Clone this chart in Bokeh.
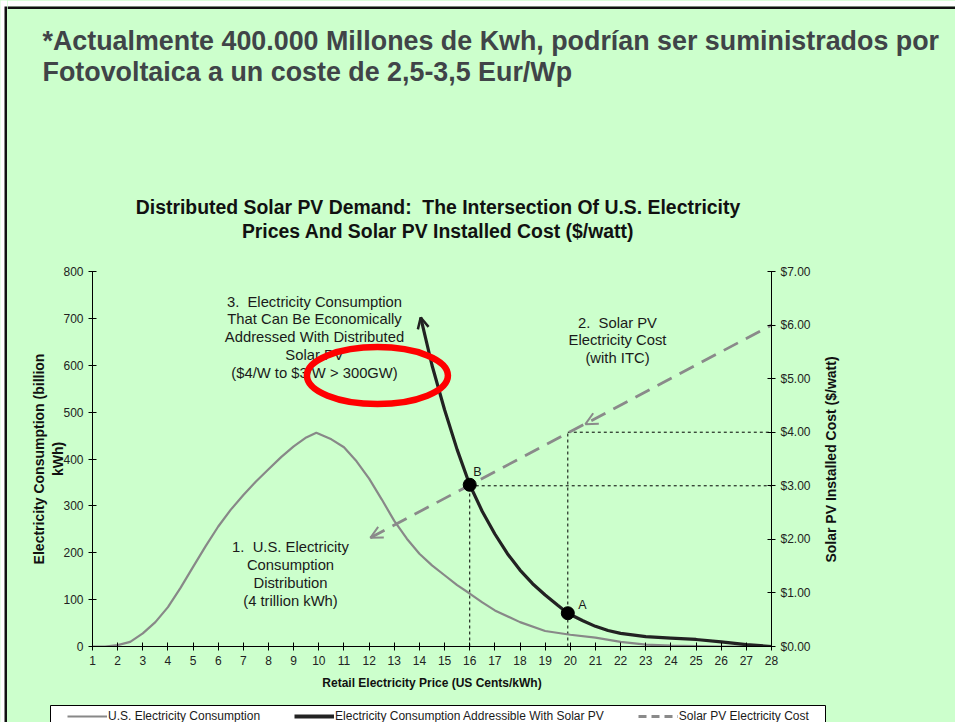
import math
from bokeh.plotting import figure
from bokeh.layouts import row, column
from bokeh.models import (Range1d, LinearAxis, FixedTicker, NumeralTickFormatter, Label,
                          Legend, LegendItem, Arrow, OpenHead)
from bokeh.embed import file_html
from bokeh.resources import INLINE

# ---------------- data ----------------
price_ticks = list(range(1, 29))
left_ticks = [0, 100, 200, 300, 400, 500, 600, 700, 800]
right_ticks = [0, 1, 2, 3, 4, 5, 6, 7]

consumption_x = [1, 1.5, 2, 2.5, 3, 3.5, 4, 4.5, 5, 5.5, 6, 6.5, 7, 7.5, 8, 8.5, 9, 9.5, 9.9,
                 10.5, 11, 11.5, 12, 12.5, 13, 13.5, 14, 14.5, 15, 15.5, 16, 16.5, 17, 18, 19,
                 20, 21, 22, 23, 24, 25, 26, 27, 28]
consumption_y = [0, 0, 3, 10, 28, 52, 84, 125, 170, 214, 256, 292, 323, 352, 378, 404, 427, 446, 456,
                 442, 425, 395, 358, 314, 268, 230, 198, 173, 152, 131, 113, 94, 77, 52, 33,
                 25, 19, 10, 4, 2, 1, 0, 0, 0]

addressable_x = [14.05, 14.5, 15.0, 15.5, 16.0, 16.5, 17.0, 17.5, 18.0, 18.5, 19.0, 19.5,
                 19.9, 20.5, 21, 21.5, 22, 23, 24, 25, 26, 27, 28]
addressable_y = [702, 600, 505, 420, 345, 288, 240, 198, 163, 134, 110, 88,
                 71, 55, 43, 34, 28, 21, 18, 15, 10, 4, 0]

pv_cost_x = [12.05, 28]
pv_cost_y = [2.03, 6.0]

point_names = ["B", "A"]
point_x = [16, 19.9]
point_y = [345, 71]
point_cost = [3.0, 4.0]

callout_x = [20.6]
callout_cost = [4.15]

highlight_x = [12.33]
highlight_y = [578]

legend_labels = ["U.S. Electricity Consumption",
                 "Electricity Consumption Addressible With Solar PV",
                 "Solar PV Electricity Cost"]

NB = "\u00a0"
FONT = "Liberation Sans"
BG = "#CCFFCC"
TXT = "#1a1a1a"
GRAY = "#888888"
DGRAY = "#8a8a8a"
DARK = "#222222"


def no_align(fig):
    try:
        fig.frame_align = False
    except Exception:
        pass


def bare(width, height, xr, yr, bg=BG):
    f = figure(width=width, height=height, x_range=Range1d(*xr), y_range=Range1d(*yr),
               min_border=0, x_axis_type=None, y_axis_type=None, title=None,
               toolbar_location=None, output_backend="svg",
               background_fill_color=bg, border_fill_color=bg)
    f.outline_line_color = None
    f.grid.visible = False
    no_align(f)
    return f


def hlab(fig, text, x, y, size, bold=False, align="center", baseline="alphabetic", color=TXT,
         angle=0.0):
    fig.add_layout(Label(x=x, y=y, text=text, text_font=FONT, text_font_size=f"{size}px",
                         text_font_style="bold" if bold else "normal",
                         text_align=align, text_baseline=baseline, text_color=color,
                         angle=angle))


# ---------------- left border strip ----------------
strip = bare(7, 722, (0, 7), (722, 0), bg="white")
strip.quad(left=[4], right=[7], top=[6], bottom=[722], fill_color="#111111", line_color=None)

# ---------------- header ----------------
header = bare(948, 250, (7, 955), (250, 0))
header.quad(left=[7], right=[955], top=[0], bottom=[6], fill_color="white", line_color=None)
header.quad(left=[7], right=[955], top=[6], bottom=[8.5], fill_color="#111111", line_color=None)

hlab(header, "*Actualmente 400.000 Millones de Kwh, podrían ser suministrados por", 42, 40, 26.85,
     bold=True, align="left", color="#404448")
hlab(header, "Fotovoltaica a un coste de 2,5-3,5 Eur/Wp", 42, 71, 26.85,
     bold=True, align="left", color="#404448")
hlab(header, f"Distributed Solar PV Demand:{NB} The Intersection Of U.S. Electricity", 437.5, 206,
     19.4, bold=True, color="#111111")
hlab(header, "Prices And Solar PV Installed Cost ($/watt)", 437.5, 230, 19.4,
     bold=True, color="#111111")

# ---------------- main chart ----------------
p = figure(frame_width=679, frame_height=375,
           min_border_left=85, min_border_right=46, min_border_top=21, min_border_bottom=54,
           x_range=Range1d(1, 28), y_range=Range1d(0, 800), title=None,
           output_backend="svg", toolbar_location=None,
           background_fill_color=BG, border_fill_color=BG)
p.extra_y_ranges = {"cost": Range1d(0, 7)}
p.outline_line_color = None
p.grid.visible = False
no_align(p)

ax_b = p.xaxis[0]
ax_l = p.yaxis[0]
ax_b.ticker = FixedTicker(ticks=price_ticks)
ax_l.ticker = FixedTicker(ticks=left_ticks)
ax_r = LinearAxis(y_range_name="cost", ticker=FixedTicker(ticks=right_ticks),
                  formatter=NumeralTickFormatter(format="$0.00"))
p.add_layout(ax_r, "right")
for ax in [ax_b, ax_l, ax_r]:
    ax.axis_line_color = "black"
    ax.major_tick_line_color = "black"
    ax.major_tick_in = 4
    ax.major_tick_out = 4
    ax.minor_tick_line_color = None
    ax.major_label_text_font = FONT
    ax.major_label_text_font_size = "12px"
    ax.major_label_text_color = "#222222"
    ax.major_label_standoff = 5
    ax.axis_label_text_font = FONT
    ax.axis_label_text_font_style = "bold"
    ax.axis_label_text_color = "#111111"

ax_b.axis_label = "Retail Electricity Price (US Cents/kWh)"
ax_b.axis_label_text_font_size = "12px"
ax_b.axis_label_standoff = 8

ax_l.axis_label = "Electricity Consumption (billion\nkWh)"
ax_l.axis_label_text_font_size = "14px"
ax_l.axis_label_standoff = -6

# reference dotted lines
p.line([point_x[0], point_x[0]], [0, point_y[0]], line_color="black", line_width=1, line_dash="3 3")
p.line([point_x[0], 28], [point_cost[0], point_cost[0]], y_range_name="cost",
       line_color="black", line_width=1, line_dash="3 3")
p.line([point_x[1], point_x[1]], [0, point_cost[1]], y_range_name="cost",
       line_color="black", line_width=1, line_dash="3 3")
p.line([point_x[1], 28], [point_cost[1], point_cost[1]], y_range_name="cost",
       line_color="black", line_width=1, line_dash="3 3")

# series
r1 = p.line(consumption_x, consumption_y, line_color=GRAY, line_width=2.2)
r3 = p.line(pv_cost_x, pv_cost_y, y_range_name="cost", line_color=DGRAY,
            line_width=2.8, line_dash="16 9")
r2 = p.line(addressable_x, addressable_y, line_color=DARK, line_width=3.2)
p.scatter(point_x, point_y, size=13, color="black")

# arrows
p.add_layout(Arrow(end=OpenHead(size=11, line_color=DARK, line_width=2.5),
                   x_start=addressable_x[1], y_start=addressable_y[1],
                   x_end=addressable_x[0], y_end=addressable_y[0], line_alpha=0))
slope = (pv_cost_y[1] - pv_cost_y[0]) / (pv_cost_x[1] - pv_cost_x[0])
p.add_layout(Arrow(end=OpenHead(size=12, line_color=DGRAY, line_width=2),
                   x_start=pv_cost_x[0] + 0.5, y_start=pv_cost_y[0] + 0.5 * slope,
                   x_end=pv_cost_x[0], y_end=pv_cost_y[0], y_range_name="cost", line_alpha=0))
p.add_layout(Arrow(end=OpenHead(size=12, line_color=DGRAY, line_width=2),
                   x_start=callout_x[0] + 0.5, y_start=callout_cost[0] + 0.5 * slope,
                   x_end=callout_x[0], y_end=callout_cost[0], y_range_name="cost", line_alpha=0))

# annotations (page px -> screen units relative to frame bottom-left at (92, 646))
FX0, FY0 = 92, 646


def lab(text, px, py, size):
    p.add_layout(Label(x=px - FX0, y=FY0 - py, x_units="screen", y_units="screen", text=text,
                       text_font=FONT, text_font_size=f"{size}px", text_align="center",
                       text_baseline="middle", text_color=TXT))


for i, t in enumerate([f"3.{NB} Electricity Consumption", "That Can Be Economically",
                       "Addressed With Distributed", "Solar PV", "($4/W to $3/W > 300GW)"]):
    lab(t, 314, 301 + i * 17.8, 14.8)
for i, t in enumerate([f"2.{NB} Solar PV", "Electricity Cost", "(with ITC)"]):
    lab(t, 617, 322 + i * 17.5, 14.8)
for i, t in enumerate([f"1.{NB} U.S. Electricity", "Consumption", "Distribution", "(4 trillion kWh)"]):
    lab(t, 290, 546 + i * 18, 14.8)
lab(point_names[0], 477, 471, 12.5)
lab(point_names[1], 582, 604, 12.5)

# red highlight ellipse (on top)
p.ellipse(highlight_x, highlight_y, width=141, height=57, width_units="screen",
          height_units="screen", fill_color=None, line_color="#FF0000", line_width=6.5,
          level="overlay")

# ---------------- right side: right-axis title ----------------
side = bare(138, 450, (817, 955), (700, 250))
hlab(side, "Solar PV Installed Cost ($/watt)", 830, 459, 14, bold=True, baseline="middle",
     color="#111111", angle=math.pi / 2)

# ---------------- footer with legend ----------------
footer = bare(948, 22, (7, 955), (722, 700))
footer.quad(left=[50], right=[825], top=[705], bottom=[740], fill_color="white",
            line_color="black", line_width=1)
l1 = footer.line(x=[0, 1], y=[800, 800], line_color=GRAY, line_width=2.2)
l2 = footer.line(x=[0, 1], y=[800, 800], line_color=DARK, line_width=4)
l3 = footer.line(x=[0, 1], y=[800, 800], line_color=DGRAY, line_width=2.8, line_dash="8 5")
legend = Legend(items=[LegendItem(label=legend_labels[0], renderers=[l1]),
                       LegendItem(label=legend_labels[1], renderers=[l2]),
                       LegendItem(label=legend_labels[2], renderers=[l3])],
                orientation="horizontal", location=(60, -1),
                glyph_width=40, glyph_height=14, label_height=14, label_standoff=1,
                spacing=34, padding=5, margin=0, background_fill_alpha=0,
                border_line_color=None, label_text_font=FONT, label_text_font_size="12px",
                label_text_color=TXT)
footer.add_layout(legend)

layout = row(strip,
             column(header, row(p, side, styles={"background-color": BG}), footer,
                    styles={"background-color": BG}),
             styles={"background-color": BG})
open("out.html", "w").write(file_html(layout, INLINE))
